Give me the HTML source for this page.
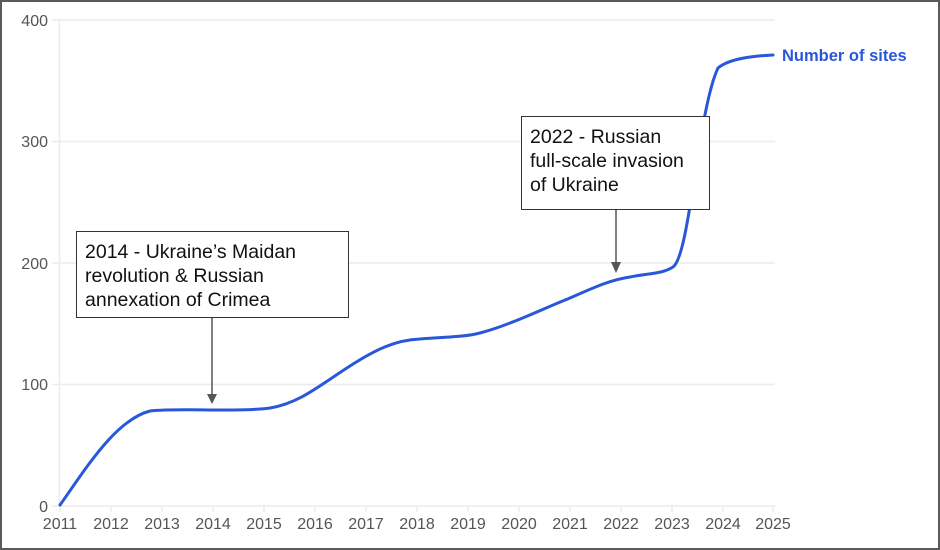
<!DOCTYPE html>
<html><head><style>
html,body{margin:0;padding:0;background:#fff;}
.wrap{width:936px;height:546px;border:2px solid #5a5a5a;position:relative;overflow:hidden;font-family:"Liberation Sans",sans-serif;}
.box{position:absolute;background:#fff;border:1px solid #333;font-size:19.5px;line-height:24px;color:#111;padding:8px 8px;box-sizing:border-box;white-space:nowrap;}
</style></head><body><div class="wrap">
<svg width="936" height="546" style="position:absolute;left:0;top:0" font-family="Liberation Sans, sans-serif">
<g transform="translate(-2,-2)">
<g stroke="#ececec" stroke-width="1.5">
<line x1="52" y1="20" x2="775" y2="20"/>
<line x1="52" y1="141.5" x2="775" y2="141.5"/>
<line x1="52" y1="263" x2="775" y2="263"/>
<line x1="52" y1="384.5" x2="775" y2="384.5"/>
<line x1="52" y1="506" x2="775" y2="506"/>
<line x1="59.5" y1="20" x2="59.5" y2="506"/>
<g>
<line x1="60" y1="506" x2="60" y2="512"/><line x1="111" y1="506" x2="111" y2="512"/><line x1="162" y1="506" x2="162" y2="512"/><line x1="213" y1="506" x2="213" y2="512"/><line x1="264" y1="506" x2="264" y2="512"/><line x1="315" y1="506" x2="315" y2="512"/><line x1="366" y1="506" x2="366" y2="512"/><line x1="417" y1="506" x2="417" y2="512"/><line x1="468" y1="506" x2="468" y2="512"/><line x1="519" y1="506" x2="519" y2="512"/><line x1="570" y1="506" x2="570" y2="512"/><line x1="621" y1="506" x2="621" y2="512"/><line x1="672" y1="506" x2="672" y2="512"/><line x1="723" y1="506" x2="723" y2="512"/><line x1="773" y1="506" x2="773" y2="512"/>
</g></g>
<g fill="#555" font-size="16" text-anchor="end">
<text x="48" y="26">400</text><text x="48" y="147">300</text><text x="48" y="269">200</text><text x="48" y="390">100</text><text x="48" y="512">0</text>
</g>
<g fill="#555" font-size="16" text-anchor="middle">
<text x="60" y="529">2011</text><text x="111" y="529">2012</text><text x="162" y="529">2013</text><text x="213" y="529">2014</text><text x="264" y="529">2015</text><text x="315" y="529">2016</text><text x="366" y="529">2017</text><text x="417" y="529">2018</text><text x="468" y="529">2019</text><text x="519" y="529">2020</text><text x="570" y="529">2021</text><text x="621" y="529">2022</text><text x="672" y="529">2023</text><text x="723" y="529">2024</text><text x="773" y="529">2025</text>
</g>
<path d="M60,505 C85,470 115,420 150,411 C170,409 200,410 213,410 C240,410 255,410 270,408 C300,403 320,385 350,366 C375,350 395,340 420,339 C445,337 465,337 480,333 C510,325 540,310 570,298 C595,287 610,280 630,277 C650,273 662,274 673,267 C690,255 698,110 718,68 C730,58 755,56 773,55" fill="none" stroke="#2957d9" stroke-width="3" stroke-linecap="round"/>
<text x="782" y="61" fill="#2957d9" font-size="16.5" font-weight="bold">Number of sites</text>
<line x1="212" y1="316" x2="212" y2="396" stroke="#555" stroke-width="1.5"/>
<polygon points="207,394 217,394 212,404" fill="#555"/>
<line x1="616" y1="208" x2="616" y2="263" stroke="#555" stroke-width="1.5"/>
<polygon points="611,262 621,262 616,273" fill="#555"/>
</g>
</svg>
<div class="box" style="left:74px;top:229px;width:273px;height:87px;">2014 - Ukraine’s Maidan<br>revolution &amp; Russian<br>annexation of Crimea</div>
<div class="box" style="left:519px;top:114px;width:189px;height:94px;">2022 - Russian<br>full-scale invasion<br>of Ukraine</div>
</div></body></html>
